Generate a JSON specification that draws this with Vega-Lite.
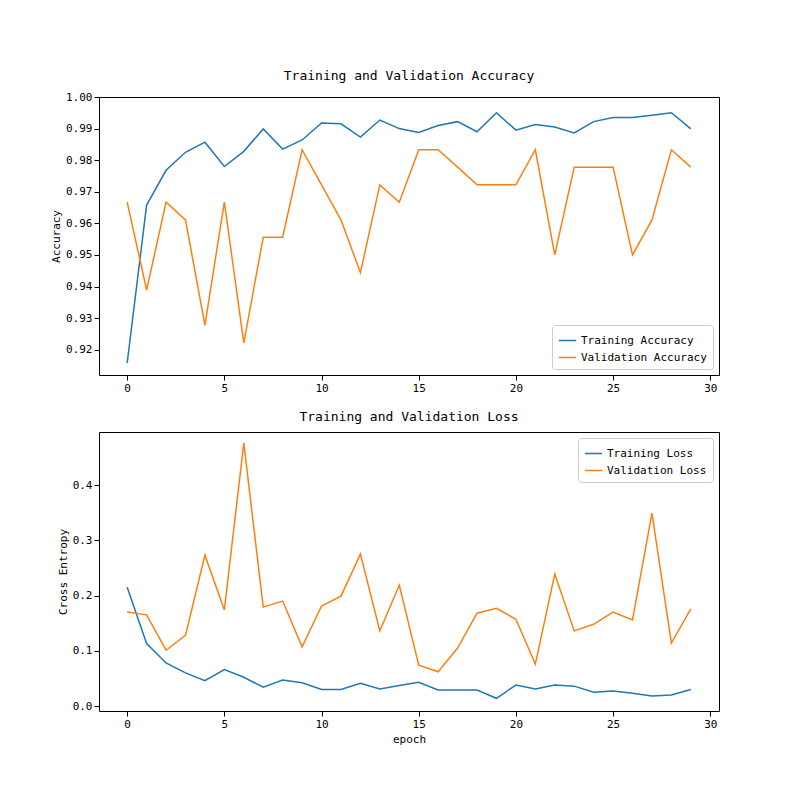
{
  "$schema": "https://vega.github.io/schema/vega-lite/v6.json",
  "background": "white",
  "padding": {"left": 50, "top": 69, "right": 20, "bottom": 10},
  "spacing": 16,
  "config": {
    "font": "DejaVu Sans Mono",
    "view": {"stroke": "black", "strokeWidth": 1},
    "axis": {"grid": false, "domain": false, "tickColor": "black", "labelColor": "black", "titleColor": "black", "labelFontSize": 11, "titleFontSize": 11, "titleFontWeight": "normal", "labelFont": "DejaVu Sans Mono", "titleFont": "DejaVu Sans Mono"},
    "title": {"fontSize": 13, "fontWeight": "normal", "font": "DejaVu Sans Mono", "offset": 8},
    "legend": {"labelFontSize": 11, "labelFont": "DejaVu Sans Mono", "strokeColor": "#cccccc", "fillColor": "white", "padding": 6, "cornerRadius": 3, "symbolType": "stroke", "symbolStrokeWidth": 1.5, "symbolSize": 300, "title": null, "offset": 6}
  },
  "datasets": {
    "acc": [
      {"epoch":0,"series":"Training Accuracy","value":0.9158},{"epoch":1,"series":"Training Accuracy","value":0.9658},{"epoch":2,"series":"Training Accuracy","value":0.9768},{"epoch":3,"series":"Training Accuracy","value":0.9825},{"epoch":4,"series":"Training Accuracy","value":0.9857},{"epoch":5,"series":"Training Accuracy","value":0.978},{"epoch":6,"series":"Training Accuracy","value":0.9828},{"epoch":7,"series":"Training Accuracy","value":0.9899},{"epoch":8,"series":"Training Accuracy","value":0.9835},{"epoch":9,"series":"Training Accuracy","value":0.9864},{"epoch":10,"series":"Training Accuracy","value":0.9918},{"epoch":11,"series":"Training Accuracy","value":0.9915},{"epoch":12,"series":"Training Accuracy","value":0.9873},{"epoch":13,"series":"Training Accuracy","value":0.9927},{"epoch":14,"series":"Training Accuracy","value":0.99},{"epoch":15,"series":"Training Accuracy","value":0.9888},{"epoch":16,"series":"Training Accuracy","value":0.991},{"epoch":17,"series":"Training Accuracy","value":0.9922},{"epoch":18,"series":"Training Accuracy","value":0.989},{"epoch":19,"series":"Training Accuracy","value":0.995},{"epoch":20,"series":"Training Accuracy","value":0.9895},{"epoch":21,"series":"Training Accuracy","value":0.9913},{"epoch":22,"series":"Training Accuracy","value":0.9905},{"epoch":23,"series":"Training Accuracy","value":0.9886},{"epoch":24,"series":"Training Accuracy","value":0.9922},{"epoch":25,"series":"Training Accuracy","value":0.9935},{"epoch":26,"series":"Training Accuracy","value":0.9935},{"epoch":27,"series":"Training Accuracy","value":0.9942},{"epoch":28,"series":"Training Accuracy","value":0.995},{"epoch":29,"series":"Training Accuracy","value":0.9899},
      {"epoch":0,"series":"Validation Accuracy","value":0.9667},{"epoch":1,"series":"Validation Accuracy","value":0.9389},{"epoch":2,"series":"Validation Accuracy","value":0.9667},{"epoch":3,"series":"Validation Accuracy","value":0.9611},{"epoch":4,"series":"Validation Accuracy","value":0.9278},{"epoch":5,"series":"Validation Accuracy","value":0.9667},{"epoch":6,"series":"Validation Accuracy","value":0.9222},{"epoch":7,"series":"Validation Accuracy","value":0.9556},{"epoch":8,"series":"Validation Accuracy","value":0.9556},{"epoch":9,"series":"Validation Accuracy","value":0.9833},{"epoch":10,"series":"Validation Accuracy","value":0.9722},{"epoch":11,"series":"Validation Accuracy","value":0.9611},{"epoch":12,"series":"Validation Accuracy","value":0.9444},{"epoch":13,"series":"Validation Accuracy","value":0.9722},{"epoch":14,"series":"Validation Accuracy","value":0.9667},{"epoch":15,"series":"Validation Accuracy","value":0.9833},{"epoch":16,"series":"Validation Accuracy","value":0.9833},{"epoch":17,"series":"Validation Accuracy","value":0.9778},{"epoch":18,"series":"Validation Accuracy","value":0.9722},{"epoch":19,"series":"Validation Accuracy","value":0.9722},{"epoch":20,"series":"Validation Accuracy","value":0.9722},{"epoch":21,"series":"Validation Accuracy","value":0.9833},{"epoch":22,"series":"Validation Accuracy","value":0.95},{"epoch":23,"series":"Validation Accuracy","value":0.9778},{"epoch":24,"series":"Validation Accuracy","value":0.9778},{"epoch":25,"series":"Validation Accuracy","value":0.9778},{"epoch":26,"series":"Validation Accuracy","value":0.95},{"epoch":27,"series":"Validation Accuracy","value":0.9611},{"epoch":28,"series":"Validation Accuracy","value":0.9833},{"epoch":29,"series":"Validation Accuracy","value":0.9778}
    ],
    "loss": [
      {"epoch":0,"series":"Training Loss","value":0.215},{"epoch":1,"series":"Training Loss","value":0.113},{"epoch":2,"series":"Training Loss","value":0.078},{"epoch":3,"series":"Training Loss","value":0.06},{"epoch":4,"series":"Training Loss","value":0.046},{"epoch":5,"series":"Training Loss","value":0.066},{"epoch":6,"series":"Training Loss","value":0.052},{"epoch":7,"series":"Training Loss","value":0.034},{"epoch":8,"series":"Training Loss","value":0.047},{"epoch":9,"series":"Training Loss","value":0.042},{"epoch":10,"series":"Training Loss","value":0.03},{"epoch":11,"series":"Training Loss","value":0.03},{"epoch":12,"series":"Training Loss","value":0.041},{"epoch":13,"series":"Training Loss","value":0.031},{"epoch":14,"series":"Training Loss","value":0.037},{"epoch":15,"series":"Training Loss","value":0.043},{"epoch":16,"series":"Training Loss","value":0.029},{"epoch":17,"series":"Training Loss","value":0.029},{"epoch":18,"series":"Training Loss","value":0.029},{"epoch":19,"series":"Training Loss","value":0.014},{"epoch":20,"series":"Training Loss","value":0.038},{"epoch":21,"series":"Training Loss","value":0.031},{"epoch":22,"series":"Training Loss","value":0.038},{"epoch":23,"series":"Training Loss","value":0.036},{"epoch":24,"series":"Training Loss","value":0.025},{"epoch":25,"series":"Training Loss","value":0.027},{"epoch":26,"series":"Training Loss","value":0.023},{"epoch":27,"series":"Training Loss","value":0.018},{"epoch":28,"series":"Training Loss","value":0.02},{"epoch":29,"series":"Training Loss","value":0.03},
      {"epoch":0,"series":"Validation Loss","value":0.17},{"epoch":1,"series":"Validation Loss","value":0.165},{"epoch":2,"series":"Validation Loss","value":0.101},{"epoch":3,"series":"Validation Loss","value":0.128},{"epoch":4,"series":"Validation Loss","value":0.273},{"epoch":5,"series":"Validation Loss","value":0.174},{"epoch":6,"series":"Validation Loss","value":0.476},{"epoch":7,"series":"Validation Loss","value":0.179},{"epoch":8,"series":"Validation Loss","value":0.19},{"epoch":9,"series":"Validation Loss","value":0.107},{"epoch":10,"series":"Validation Loss","value":0.181},{"epoch":11,"series":"Validation Loss","value":0.199},{"epoch":12,"series":"Validation Loss","value":0.275},{"epoch":13,"series":"Validation Loss","value":0.136},{"epoch":14,"series":"Validation Loss","value":0.219},{"epoch":15,"series":"Validation Loss","value":0.074},{"epoch":16,"series":"Validation Loss","value":0.062},{"epoch":17,"series":"Validation Loss","value":0.105},{"epoch":18,"series":"Validation Loss","value":0.168},{"epoch":19,"series":"Validation Loss","value":0.177},{"epoch":20,"series":"Validation Loss","value":0.157},{"epoch":21,"series":"Validation Loss","value":0.076},{"epoch":22,"series":"Validation Loss","value":0.239},{"epoch":23,"series":"Validation Loss","value":0.136},{"epoch":24,"series":"Validation Loss","value":0.148},{"epoch":25,"series":"Validation Loss","value":0.17},{"epoch":26,"series":"Validation Loss","value":0.156},{"epoch":27,"series":"Validation Loss","value":0.349},{"epoch":28,"series":"Validation Loss","value":0.114},{"epoch":29,"series":"Validation Loss","value":0.176}
    ]
  },
  "vconcat": [
    {
      "width": 620,
      "height": 278,
      "title": "Training and Validation Accuracy",
      "data": {"name": "acc"},
      "mark": {"type": "line", "strokeWidth": 1.5, "clip": true},
      "encoding": {
        "x": {"field": "epoch", "type": "quantitative", "scale": {"domain": [-1.45, 30.45], "nice": false, "zero": false}, "axis": {"values": [0, 5, 10, 15, 20, 25, 30], "title": null}},
        "y": {"field": "value", "type": "quantitative", "scale": {"domain": [0.912, 1.0], "nice": false, "zero": false}, "axis": {"values": [0.92, 0.93, 0.94, 0.95, 0.96, 0.97, 0.98, 0.99, 1.0], "format": ".2f", "title": "Accuracy"}},
        "color": {"field": "series", "type": "nominal", "scale": {"domain": ["Training Accuracy", "Validation Accuracy"], "range": ["#1f77b4", "#ff7f0e"]}, "legend": {"orient": "bottom-right"}}
      }
    },
    {
      "width": 620,
      "height": 279,
      "title": "Training and Validation Loss",
      "data": {"name": "loss"},
      "mark": {"type": "line", "strokeWidth": 1.5, "clip": true},
      "encoding": {
        "x": {"field": "epoch", "type": "quantitative", "scale": {"domain": [-1.45, 30.45], "nice": false, "zero": false}, "axis": {"values": [0, 5, 10, 15, 20, 25, 30], "title": "epoch"}},
        "y": {"field": "value", "type": "quantitative", "scale": {"domain": [-0.009, 0.496], "nice": false, "zero": false}, "axis": {"values": [0, 0.1, 0.2, 0.3, 0.4], "format": ".1f", "title": "Cross Entropy"}},
        "color": {"field": "series", "type": "nominal", "scale": {"domain": ["Training Loss", "Validation Loss"], "range": ["#1f77b4", "#ff7f0e"]}, "legend": {"orient": "top-right"}}
      }
    }
  ],
  "resolve": {"scale": {"color": "independent"}, "legend": {"color": "independent"}}
}
